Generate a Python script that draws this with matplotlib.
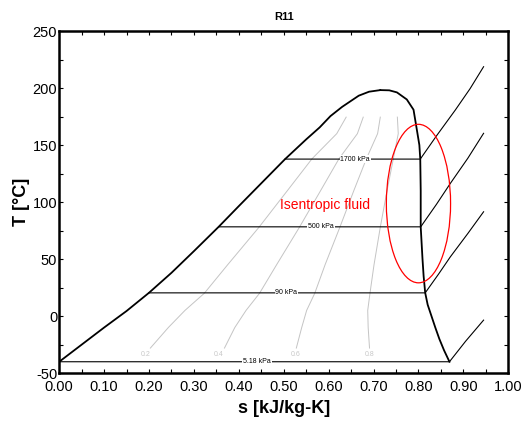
import matplotlib.pyplot as plt
from matplotlib.patches import Ellipse
from matplotlib.ticker import MultipleLocator, FormatStrFormatter

plt.rcParams["font.family"] = ["Liberation Sans", "DejaVu Sans"]
plt.rcParams["axes.unicode_minus"] = False

# --- R11 saturation dome (s in kJ/kg-K, T in C) --------------------------------
s_liq = [0.0, 0.05, 0.1, 0.15, 0.2, 0.25, 0.3, 0.355, 0.4, 0.45, 0.503,
         0.55, 0.58, 0.604, 0.63, 0.667, 0.69, 0.715]
T_liq = [-40, -25, -10, 4.5, 20.5, 38, 57, 78.3, 96.5, 116.5, 137.7,
         155, 165.5, 175.4, 183.5, 193.3, 196.8, 198.2]
s_vap = [0.715, 0.735, 0.752, 0.774, 0.789, 0.797, 0.802, 0.804, 0.805, 0.805,
         0.809, 0.8115, 0.815, 0.8205, 0.829, 0.8375, 0.8465, 0.857, 0.869]
T_vap = [198.2, 198, 196.2, 190, 181, 162, 150, 137.7, 110, 78.3,
         50, 35, 20.4, 10, 0, -10, -20, -30, -40]

# --- isobars: two-phase plateau then superheated branch ------------------------
isobars = {
    "1700 kPa": ([0.503, 0.804, 0.84, 0.882, 0.915, 0.945],
                 [137.7, 137.7, 158, 180.7, 199.5, 218.7]),
    "500 kPa": ([0.355, 0.805, 0.84, 0.871, 0.91, 0.945],
                [78.3, 78.3, 98, 116.4, 138.5, 160.3]),
    "90 kPa": ([0.199, 0.815, 0.845, 0.871, 0.91, 0.945],
               [20.4, 20.4, 37, 52, 72.5, 91.5]),
    "5.18 kPa": ([0.0, 0.869, 0.905, 0.945], [-40, -40, -22, -3.5]),
}
isobar_label_s = {"1700 kPa": 0.659, "500 kPa": 0.583, "90 kPa": 0.506, "5.18 kPa": 0.440}

# --- constant quality lines ----------------------------------------------------
T_q = [-28, -10, 5, 20, 45, 78, 110, 138, 160, 174.5]
quality = {
    "0.2": [0.203, 0.243, 0.280, 0.323, 0.375, 0.445, 0.508, 0.563, 0.618, 0.639],
    "0.4": [0.368, 0.391, 0.416, 0.446, 0.484, 0.535, 0.582, 0.623, 0.664, 0.677],
    "0.6": [0.528, 0.540, 0.551, 0.569, 0.592, 0.625, 0.656, 0.684, 0.709, 0.715],
    "0.8": [0.691, 0.688, 0.687, 0.692, 0.701, 0.715, 0.730, 0.744, 0.755, 0.753],
}
quality_label_s = {"0.2": 0.192, "0.4": 0.355, "0.6": 0.526, "0.8": 0.691}

fig = plt.figure(figsize=(5.24, 4.25), dpi=100)
ax = fig.add_axes([0.113, 0.122, 0.857, 0.805])

for key, s_vals in quality.items():
    ax.plot(s_vals, T_q, color="#c4c4c4", lw=0.7, zorder=1)
    ax.text(quality_label_s[key], -33.3, key, fontsize=5, color="#c8c8c8",
            ha="center", va="center")

ax.plot(s_liq, T_liq, color="black", lw=1.3, zorder=3)
ax.plot(s_vap, T_vap, color="black", lw=1.3, zorder=3)

for name, (s_vals, T_vals) in isobars.items():
    ax.plot(s_vals, T_vals, color="black", lw=0.8, zorder=2)
    ax.text(isobar_label_s[name], T_vals[0], name, fontsize=5, ha="center", va="center",
            bbox=dict(facecolor="white", edgecolor="none", pad=0.6), zorder=4)

ax.add_patch(Ellipse((0.80, 98.7), 0.143, 139, fill=False, edgecolor="red", lw=0.9, zorder=5))
ax.text(0.592, 97.4, "Isentropic fluid", color="red", fontsize=10, ha="center", va="center")

ax.set_xlim(0, 1)
ax.set_ylim(-50, 250)
ax.xaxis.set_major_locator(MultipleLocator(0.1))
ax.xaxis.set_minor_locator(MultipleLocator(0.05))
ax.xaxis.set_major_formatter(FormatStrFormatter("%.2f"))
ax.yaxis.set_major_locator(MultipleLocator(50))
ax.yaxis.set_minor_locator(MultipleLocator(25))
ax.tick_params(which="both", direction="in", top=True, right=True, length=3, width=0.8)
ax.tick_params(axis="x", labelsize=10.5, pad=5)
ax.tick_params(axis="y", labelsize=10.5, pad=1.5)
for spine in ax.spines.values():
    spine.set_linewidth(1.8)

ax.set_title("R11", fontsize=8, fontweight="bold", pad=8)
ax.set_xlabel("s [kJ/kg-K]", fontsize=13, fontweight="bold", labelpad=4)
ax.set_ylabel("T [°C]", fontsize=13, fontweight="bold", labelpad=2)

fig.savefig("out.png", dpi=100)
